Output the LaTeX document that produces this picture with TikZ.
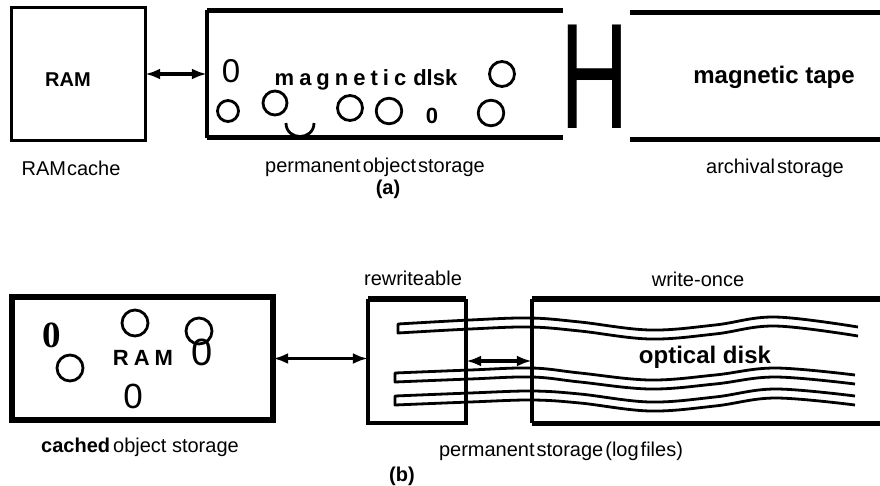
\documentclass[tikz,border=0pt]{standalone}
\usepackage{fontspec}
\setmainfont{Liberation Sans}
\newfontfamily\serifbold{Liberation Serif}
\usetikzlibrary{arrows.meta}
\begin{document}
\begin{tikzpicture}[x=1pt,y=-1pt,
  lbl/.style={font=\fontsize{20}{24}\selectfont, inner sep=0, anchor=base},
  bld/.style={font=\bfseries\fontsize{20}{24}\selectfont, inner sep=0, anchor=base},
  box/.style={rectangle, inner sep=0, draw=none},
  dbl/.style={{Latex[length=15pt,width=11pt]}-{Latex[length=15pt,width=11pt]}, line width=3.5pt},
  ring/.style={line width=2.8pt},
  track/.style={line width=2.8pt, line join=round}
]
\useasboundingbox (0,0) rectangle (880,485);

% ---------------- (a) ----------------
\node[box, minimum width=133pt, minimum height=132pt] (ramA) at (78.5,74) {};
\draw[line width=2.8pt] (ramA.north west) rectangle (ramA.south east);
\node[bld] (ramAtxt) at (68,86) {RAM};

\node[box, minimum width=356pt, minimum height=127pt] (diskA) at (385,74) {};
\draw[line width=4.5pt] (diskA.north west) -- (diskA.north east);
\draw[line width=3.5pt] (diskA.north west) -- (diskA.south west);
\draw[line width=4.5pt] (diskA.south west) -- (diskA.south east);

\node[box, minimum width=250pt, minimum height=127pt] (tapeA) at (755,76) {};
\draw[line width=5pt] (tapeA.north west) -- (tapeA.north east);
\draw[line width=5pt] (tapeA.south west) -- (tapeA.south east);

\draw[dbl] (ramA.east) -- (diskA.west);

\node[inner sep=0, anchor=base] (bigH) at (594.5,128) {\scalebox{1.25}[1.98]{\fontsize{76}{76}\selectfont H}};

\node[inner sep=0, anchor=base, font=\fontsize{33}{36}\selectfont] (zeroA1) at (231,82) {0};
\node[inner sep=0, anchor=base, font=\bfseries\fontsize{22}{24}\selectfont] (diskAtxt) at (366,85)
  {m\kern5pt a\kern5pt g\kern5pt n\kern5pt e\kern5pt t\kern5pt i\kern5pt c\kern7pt dlsk};
\node[inner sep=0, anchor=base, font=\bfseries\fontsize{22}{24}\selectfont] (zeroA2) at (432,123) {0};
\node[inner sep=0, anchor=base, font=\bfseries\fontsize{24}{26}\selectfont] (tapeAtxt) at (774,83) {magnetic tape};

\draw[ring] (502,74) circle[radius=12.5pt];
\draw[ring] (228,111) circle[radius=10.5pt];
\draw[ring] (275,103) circle[radius=12pt];
\draw[ring] (350,108) circle[radius=12.5pt];
\draw[ring] (389,111) circle[radius=12.8pt];
\draw[ring] (491,113) circle[radius=12.8pt];
\draw[ring] (286,123) .. controls (286,141) and (314,141) .. (314,123);

\node[lbl] (lRAMc) at (71,175) {RAM\kern1pt cache};
\node[lbl] (lperm) at (375,172) {permanent\kern2pt object\kern2pt storage};
\node[lbl] (larch) at (775,173) {archival\kern2pt storage};
\node[bld] (la) at (388,194) {(a)};

% ---------------- (b) ----------------
\draw[track] plot[smooth, tension=0.6] coordinates {(858,327) (775,317) (715,325) (650,330) (580,322) (530,318) (470,320) (398,324)}
  -- plot[smooth, tension=0.6] coordinates {(398,333) (470,329) (530,327) (580,331) (650,339) (715,334) (775,326) (858,336)};
\draw[track] plot[smooth, tension=0.6] coordinates {(855,375) (775,368) (715,375) (650,380) (580,373) (532,368) (470,370) (395,373)}
  -- plot[smooth, tension=0.6] coordinates {(395,382) (470,379) (532,377) (580,382) (650,389) (715,384) (775,377) (855,384)};
\draw[track] plot[smooth, tension=0.6] coordinates {(855,396) (775,389) (715,397) (650,402) (580,394) (532,391) (470,393) (395,396)}
  -- plot[smooth, tension=0.6] coordinates {(395,405) (470,402) (532,400) (580,403) (650,411) (715,406) (775,398) (855,405)};

\node[box, minimum width=261pt, minimum height=123pt] (cacheB) at (142.5,358.5) {};
\draw[line width=5.5pt] (cacheB.north west) rectangle (cacheB.south east);

\node[box, minimum width=98pt, minimum height=124pt] (rewB) at (417,361) {};
\draw[line width=6.5pt] (rewB.north west) -- (rewB.north east);
\draw[line width=4.5pt] (rewB.north west) -- (rewB.south west) -- (rewB.south east) -- (rewB.north east);

\node[box, minimum width=348pt, minimum height=124pt] (onceB) at (706,361) {};
\draw[line width=5.5pt] (onceB.north west) -- (onceB.north east);
\draw[line width=4.5pt] (onceB.north west) -- (onceB.south west);
\draw[line width=5pt] (onceB.south west) -- (onceB.south east);

\draw[dbl] (cacheB.east) -- (cacheB.east -| rewB.west);
\draw[dbl] (rewB.east) -- (onceB.west);

\node[inner sep=0, anchor=base, font=\serifbold\bfseries\fontsize{37}{40}\selectfont] (zeroB1) at (52,347) {0};
\node[inner sep=0, anchor=base, font=\bfseries\fontsize{22}{24}\selectfont] (ramBtxt) at (143,365) {R\kern5pt A\kern5pt M};
\node[inner sep=0, anchor=base, font=\fontsize{38}{40}\selectfont] (zeroB2) at (202,365) {0};
\node[inner sep=0, anchor=base, font=\fontsize{35}{38}\selectfont] (zeroB3) at (133,408) {0};
\draw[ring] (135,323) circle[radius=13pt];
\draw[ring] (199,331) circle[radius=13pt];
\draw[ring] (70,368) circle[radius=13pt];

\node[inner sep=0, anchor=base, font=\bfseries\fontsize{24}{26}\selectfont] (optB) at (705,363) {optical disk};

\node[lbl] (lrew) at (413,285) {rewriteable};
\node[lbl] (lonce) at (698,286) {write-once};
\node[lbl] (lcached) at (140,452) {\textbf{cached}\kern3pt object storage};
\node[lbl] (lpermB) at (561,456) {permanent\kern2pt storage\kern2pt (log\kern2pt files)};
\node[bld] (lb) at (402,481) {(b)};
\end{tikzpicture}
\end{document}
